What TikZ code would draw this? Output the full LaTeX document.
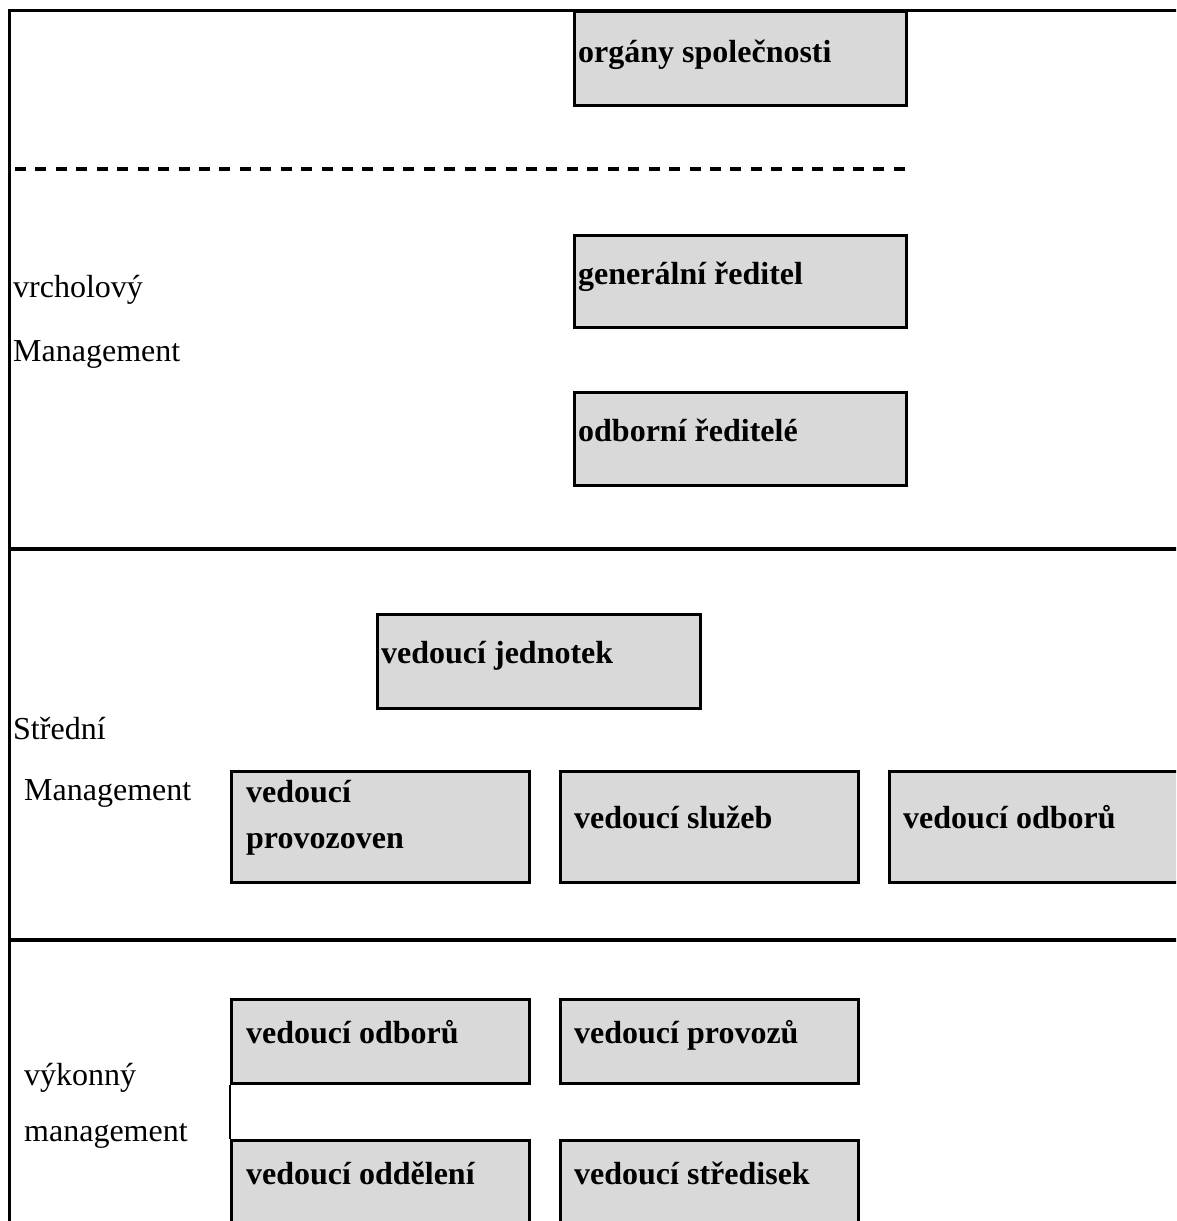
\documentclass[tikz,border=0pt]{standalone}
\usepackage{fontspec}
\setmainfont{Liberation Serif}
\definecolor{boxgray}{HTML}{D9D9D9}
\begin{document}
\begin{tikzpicture}[x=1pt,y=-1pt,
  box/.style={draw=black, fill=boxgray, line width=2.5pt, anchor=north west, inner sep=0pt},
  btxt/.style={anchor=base west, inner sep=0pt, font=\fontsize{32}{38}\selectfont\bfseries},
  ltxt/.style={anchor=base west, inner sep=0pt, font=\fontsize{32}{38}\selectfont},
  frame/.style={line width=3.2pt, line cap=rect},
  divider/.style={line width=3.6pt},
  dashline/.style={line width=4pt, dash pattern=on 11pt off 9.44pt}]
\useasboundingbox (0,0) rectangle (1176,1221);
\clip (0,0) rectangle (1176,1221);
% frame
\coordinate (ftl) at (9.6,10.6);
\coordinate (ftr) at (1180,10.6);
\coordinate (fbl) at (9.6,1225);
\draw[frame] (ftr) -- (ftl) -- (fbl);
\coordinate (d1l) at (9.6,549);
\coordinate (d1r) at (1180,549);
\coordinate (d2l) at (9.6,940);
\coordinate (d2r) at (1180,940);
\draw[divider] (d1l) -- (d1r);
\draw[divider] (d2l) -- (d2r);
\coordinate (dsl) at (15,169);
\coordinate (dsr) at (905,169);
\draw[dashline] (dsl) -- (dsr);
% boxes
\node[box, minimum width=332pt, minimum height=94pt] (b1) at (573,10) {};
\node[btxt] (t1) at (578,62) {orgány společnosti};
\node[box, minimum width=332pt, minimum height=92pt] (b2) at (573,234) {};
\node[btxt] (t2) at (578,284) {generální ředitel};
\node[box, minimum width=332pt, minimum height=93pt] (b3) at (573,391) {};
\node[btxt] (t3) at (578,441) {odborní ředitelé};
\node[box, minimum width=323pt, minimum height=94pt] (b4) at (376,613) {};
\node[btxt] (t4) at (381,663) {vedoucí jednotek};
\node[box, minimum width=298pt, minimum height=111pt] (b5) at (230,770) {};
\node[btxt] (t5a) at (246,802) {vedoucí};
\node[btxt] (t5b) at (246,848) {provozoven};
\node[box, minimum width=298pt, minimum height=111pt] (b6) at (559,770) {};
\node[btxt] (t6) at (574,828) {vedoucí služeb};
\node[box, minimum width=320pt, minimum height=111pt] (b7) at (888,770) {};
\node[btxt] (t7) at (903,828) {vedoucí odborů};
\node[box, minimum width=298pt, minimum height=84pt] (b8) at (230,998) {};
\node[btxt] (t8) at (246,1043) {vedoucí odborů};
\node[box, minimum width=298pt, minimum height=84pt] (b9) at (559,998) {};
\node[btxt] (t9) at (574,1043) {vedoucí provozů};
\node[box, minimum width=298pt, minimum height=100pt] (b10) at (230,1139) {};
\node[btxt] (t10) at (246,1184) {vedoucí oddělení};
\node[box, minimum width=298pt, minimum height=100pt] (b11) at (559,1139) {};
\node[btxt] (t11) at (574,1184) {vedoucí středisek};
\draw[line width=2.5pt] (b8.south west) -- (b10.north west);
% left labels
\node[ltxt] (l1) at (13,297) {vrcholový};
\node[ltxt] (l2) at (13,361) {Management};
\node[ltxt] (l3) at (13,739) {Střední};
\node[ltxt] (l4) at (24,800) {Management};
\node[ltxt] (l5) at (24,1085) {výkonný};
\node[ltxt] (l6) at (24,1141) {management};
\end{tikzpicture}
\end{document}
